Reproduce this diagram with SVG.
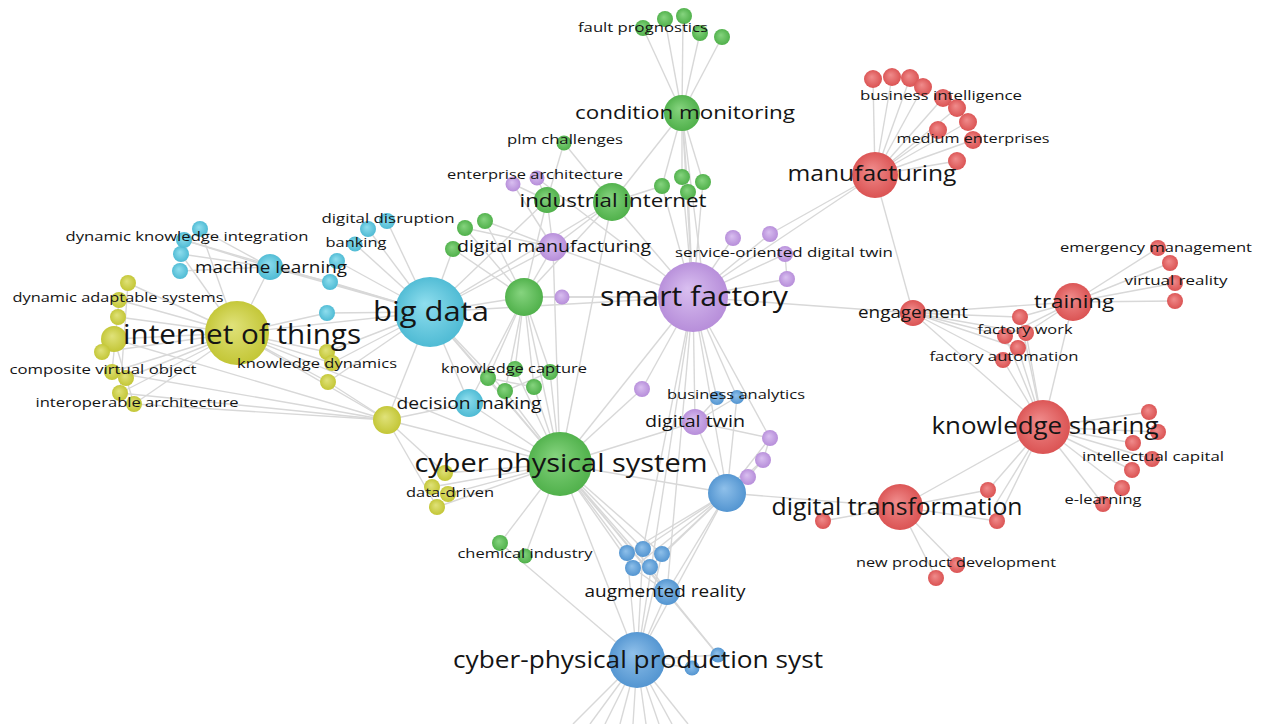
<svg xmlns="http://www.w3.org/2000/svg" width="1263" height="724" viewBox="0 0 1263 724">
<defs>
<radialGradient id="gG" cx="0.5" cy="0.5" r="0.55" fx="0.42" fy="0.38"><stop offset="0" stop-color="#86d47f"/><stop offset="1" stop-color="#4cae47"/></radialGradient>
<radialGradient id="gP" cx="0.5" cy="0.5" r="0.55" fx="0.42" fy="0.38"><stop offset="0" stop-color="#d9bff0"/><stop offset="1" stop-color="#b48ad8"/></radialGradient>
<radialGradient id="gC" cx="0.5" cy="0.5" r="0.55" fx="0.42" fy="0.38"><stop offset="0" stop-color="#8fdeee"/><stop offset="1" stop-color="#4ab8d2"/></radialGradient>
<radialGradient id="gY" cx="0.5" cy="0.5" r="0.55" fx="0.42" fy="0.38"><stop offset="0" stop-color="#e0e27a"/><stop offset="1" stop-color="#c1c431"/></radialGradient>
<radialGradient id="gR" cx="0.5" cy="0.5" r="0.55" fx="0.42" fy="0.38"><stop offset="0" stop-color="#f08c8c"/><stop offset="1" stop-color="#d94f4f"/></radialGradient>
<radialGradient id="gB" cx="0.5" cy="0.5" r="0.55" fx="0.42" fy="0.38"><stop offset="0" stop-color="#8fc0ea"/><stop offset="1" stop-color="#4f92cf"/></radialGradient>
</defs>
<style>
.e line{stroke:#d8d8d8;stroke-width:1.4;fill:none}
.g{fill:url(#gG)}.p{fill:url(#gP)}.c{fill:url(#gC)}.y{fill:url(#gY)}.r{fill:url(#gR)}.b{fill:url(#gB)}
text{font-family:"Open Sans","Liberation Sans",sans-serif;fill:#141414;text-anchor:middle}
.s{font-size:13.5px;font-weight:500}
</style>
<rect width="1263" height="724" fill="#ffffff"/>
<g id="connectors" class="e">
<line x1="682" y1="113" x2="643" y2="28"/><line x1="682" y1="113" x2="665" y2="20"/><line x1="682" y1="113" x2="683" y2="17"/><line x1="682" y1="113" x2="700" y2="33"/><line x1="682" y1="113" x2="722" y2="37"/>
<line x1="682" y1="113" x2="612" y2="202"/><line x1="682" y1="113" x2="662" y2="186"/><line x1="682" y1="113" x2="682" y2="177"/><line x1="682" y1="113" x2="703" y2="182"/><line x1="682" y1="113" x2="688" y2="192"/><line x1="682" y1="113" x2="693" y2="297"/><line x1="682" y1="113" x2="705" y2="297"/>
<line x1="564" y1="143" x2="612" y2="202"/><line x1="564" y1="143" x2="547" y2="200"/>
<line x1="513" y1="184" x2="547" y2="200"/><line x1="513" y1="184" x2="553" y2="247"/><line x1="537" y1="178" x2="547" y2="200"/><line x1="537" y1="178" x2="693" y2="297"/>
<line x1="547" y1="200" x2="430" y2="312"/><line x1="547" y1="200" x2="524" y2="297"/><line x1="547" y1="200" x2="553" y2="247"/>
<line x1="612" y1="202" x2="693" y2="297"/><line x1="612" y1="202" x2="524" y2="297"/><line x1="612" y1="202" x2="553" y2="247"/><line x1="612" y1="202" x2="560" y2="464"/><line x1="612" y1="202" x2="662" y2="186"/><line x1="612" y1="202" x2="430" y2="312"/>
<line x1="682" y1="177" x2="693" y2="297"/><line x1="703" y1="182" x2="693" y2="297"/><line x1="688" y1="192" x2="693" y2="297"/><line x1="662" y1="186" x2="693" y2="297"/>
<line x1="553" y1="247" x2="430" y2="312"/><line x1="553" y1="247" x2="524" y2="297"/><line x1="553" y1="247" x2="693" y2="297"/><line x1="553" y1="247" x2="560" y2="464"/><line x1="553" y1="247" x2="465" y2="228"/><line x1="553" y1="247" x2="485" y2="221"/>
<line x1="465" y1="228" x2="524" y2="297"/><line x1="485" y1="221" x2="524" y2="297"/><line x1="453" y1="249" x2="524" y2="297"/><line x1="453" y1="249" x2="430" y2="312"/>
<line x1="524" y1="297" x2="430" y2="312"/><line x1="524" y1="297" x2="693" y2="297"/><line x1="524" y1="297" x2="560" y2="464"/><line x1="524" y1="297" x2="488" y2="378"/><line x1="524" y1="297" x2="505" y2="391"/><line x1="524" y1="297" x2="534" y2="387"/><line x1="524" y1="297" x2="550" y2="372"/><line x1="524" y1="297" x2="515" y2="369"/><line x1="524" y1="297" x2="469" y2="403"/><line x1="524" y1="297" x2="562" y2="297"/>
<line x1="562" y1="297" x2="693" y2="297"/>
<line x1="430" y1="312" x2="237" y2="333"/><line x1="430" y1="312" x2="270" y2="267"/><line x1="430" y1="312" x2="368" y2="229"/><line x1="430" y1="312" x2="387" y2="221"/><line x1="430" y1="312" x2="355" y2="244"/><line x1="430" y1="312" x2="337" y2="261"/><line x1="430" y1="312" x2="330" y2="282"/><line x1="430" y1="312" x2="327" y2="313"/><line x1="430" y1="312" x2="327" y2="352"/><line x1="430" y1="312" x2="387" y2="420"/><line x1="430" y1="312" x2="469" y2="403"/><line x1="430" y1="312" x2="560" y2="464"/><line x1="430" y1="312" x2="693" y2="297"/><line x1="430" y1="312" x2="488" y2="378"/><line x1="430" y1="312" x2="505" y2="391"/><line x1="430" y1="312" x2="184" y2="240"/>
<line x1="270" y1="267" x2="237" y2="333"/><line x1="270" y1="267" x2="200" y2="229"/><line x1="270" y1="267" x2="184" y2="240"/><line x1="270" y1="267" x2="181" y2="254"/><line x1="270" y1="267" x2="180" y2="271"/><line x1="270" y1="267" x2="330" y2="282"/>
<line x1="237" y1="333" x2="128" y2="283"/><line x1="237" y1="333" x2="119" y2="300"/><line x1="237" y1="333" x2="118" y2="317"/><line x1="237" y1="333" x2="114" y2="339"/><line x1="237" y1="333" x2="102" y2="352"/><line x1="237" y1="333" x2="112" y2="372"/><line x1="237" y1="333" x2="126" y2="378"/><line x1="237" y1="333" x2="120" y2="393"/><line x1="237" y1="333" x2="134" y2="404"/><line x1="237" y1="333" x2="327" y2="352"/><line x1="237" y1="333" x2="332" y2="363"/><line x1="237" y1="333" x2="328" y2="382"/><line x1="237" y1="333" x2="387" y2="420"/><line x1="237" y1="333" x2="200" y2="229"/><line x1="237" y1="333" x2="181" y2="254"/><line x1="237" y1="333" x2="327" y2="313"/><line x1="237" y1="333" x2="560" y2="464"/>
<line x1="114" y1="339" x2="134" y2="404"/><line x1="119" y1="300" x2="112" y2="372"/><line x1="128" y1="283" x2="120" y2="393"/>
<line x1="387" y1="420" x2="560" y2="464"/><line x1="387" y1="420" x2="445" y2="473"/><line x1="387" y1="420" x2="437" y2="507"/><line x1="387" y1="420" x2="114" y2="339"/><line x1="387" y1="420" x2="112" y2="372"/><line x1="387" y1="420" x2="120" y2="393"/><line x1="387" y1="420" x2="134" y2="404"/><line x1="387" y1="420" x2="328" y2="382"/><line x1="387" y1="420" x2="469" y2="403"/>
<line x1="327" y1="352" x2="332" y2="363"/><line x1="332" y1="363" x2="430" y2="312"/><line x1="328" y1="382" x2="430" y2="312"/>
<line x1="445" y1="473" x2="560" y2="464"/><line x1="448" y1="494" x2="560" y2="464"/><line x1="437" y1="507" x2="560" y2="464"/><line x1="432" y1="487" x2="560" y2="464"/>
<line x1="469" y1="403" x2="560" y2="464"/>
<line x1="488" y1="378" x2="560" y2="464"/><line x1="505" y1="391" x2="560" y2="464"/><line x1="534" y1="387" x2="560" y2="464"/><line x1="550" y1="372" x2="560" y2="464"/><line x1="515" y1="369" x2="560" y2="464"/><line x1="488" y1="378" x2="534" y2="387"/><line x1="505" y1="391" x2="550" y2="372"/>
<line x1="560" y1="464" x2="637" y2="660"/><line x1="560" y1="464" x2="667" y2="592"/><line x1="560" y1="464" x2="627" y2="553"/><line x1="560" y1="464" x2="643" y2="549"/><line x1="560" y1="464" x2="662" y2="554"/><line x1="560" y1="464" x2="633" y2="568"/><line x1="560" y1="464" x2="650" y2="567"/><line x1="560" y1="464" x2="500" y2="543"/><line x1="560" y1="464" x2="525" y2="556"/><line x1="560" y1="464" x2="693" y2="297"/><line x1="560" y1="464" x2="695" y2="422"/><line x1="560" y1="464" x2="727" y2="493"/><line x1="560" y1="464" x2="642" y2="389"/><line x1="560" y1="464" x2="718" y2="655"/>
<line x1="693" y1="297" x2="913" y2="313"/><line x1="693" y1="297" x2="875" y2="175"/><line x1="693" y1="297" x2="733" y2="238"/><line x1="693" y1="297" x2="770" y2="234"/><line x1="693" y1="297" x2="785" y2="254"/><line x1="693" y1="297" x2="787" y2="279"/><line x1="693" y1="297" x2="695" y2="422"/><line x1="693" y1="297" x2="727" y2="493"/><line x1="693" y1="297" x2="667" y2="592"/><line x1="693" y1="297" x2="637" y2="660"/><line x1="693" y1="297" x2="642" y2="389"/><line x1="693" y1="297" x2="717" y2="398"/><line x1="693" y1="297" x2="643" y2="549"/><line x1="693" y1="297" x2="770" y2="438"/><line x1="693" y1="297" x2="737" y2="397"/>
<line x1="770" y1="234" x2="875" y2="175"/><line x1="785" y1="254" x2="787" y2="279"/>
<line x1="875" y1="175" x2="873" y2="79"/><line x1="875" y1="175" x2="892" y2="77"/><line x1="875" y1="175" x2="910" y2="78"/><line x1="875" y1="175" x2="923" y2="87"/><line x1="875" y1="175" x2="943" y2="98"/><line x1="875" y1="175" x2="957" y2="108"/><line x1="875" y1="175" x2="968" y2="122"/><line x1="875" y1="175" x2="938" y2="130"/><line x1="875" y1="175" x2="973" y2="140"/><line x1="875" y1="175" x2="957" y2="161"/><line x1="875" y1="175" x2="913" y2="313"/>
<line x1="913" y1="313" x2="1073" y2="302"/><line x1="913" y1="313" x2="1043" y2="427"/><line x1="913" y1="313" x2="1020" y2="317"/><line x1="913" y1="313" x2="1005" y2="336"/><line x1="913" y1="313" x2="1026" y2="333"/><line x1="913" y1="313" x2="1018" y2="348"/><line x1="913" y1="313" x2="1003" y2="360"/>
<line x1="1073" y1="302" x2="1158" y2="248"/><line x1="1073" y1="302" x2="1170" y2="263"/><line x1="1073" y1="302" x2="1175" y2="283"/><line x1="1073" y1="302" x2="1175" y2="301"/><line x1="1073" y1="302" x2="1043" y2="427"/><line x1="1073" y1="302" x2="1020" y2="317"/><line x1="1073" y1="302" x2="1026" y2="333"/><line x1="1073" y1="302" x2="1005" y2="336"/>
<line x1="1020" y1="317" x2="1043" y2="427"/><line x1="1005" y1="336" x2="1043" y2="427"/><line x1="1026" y1="333" x2="1043" y2="427"/><line x1="1018" y1="348" x2="1043" y2="427"/><line x1="1003" y1="360" x2="1043" y2="427"/>
<line x1="1043" y1="427" x2="1149" y2="412"/><line x1="1043" y1="427" x2="1158" y2="432"/><line x1="1043" y1="427" x2="1133" y2="443"/><line x1="1043" y1="427" x2="1152" y2="459"/><line x1="1043" y1="427" x2="1132" y2="470"/><line x1="1043" y1="427" x2="1122" y2="488"/><line x1="1043" y1="427" x2="1103" y2="504"/><line x1="1043" y1="427" x2="900" y2="507"/><line x1="1043" y1="427" x2="988" y2="490"/><line x1="1043" y1="427" x2="997" y2="521"/><line x1="1043" y1="427" x2="995" y2="505"/>
<line x1="900" y1="507" x2="823" y2="521"/><line x1="900" y1="507" x2="988" y2="490"/><line x1="900" y1="507" x2="997" y2="521"/><line x1="900" y1="507" x2="957" y2="565"/><line x1="900" y1="507" x2="936" y2="578"/><line x1="900" y1="507" x2="727" y2="493"/>
<line x1="727" y1="493" x2="627" y2="553"/><line x1="727" y1="493" x2="643" y2="549"/><line x1="727" y1="493" x2="662" y2="554"/><line x1="727" y1="493" x2="633" y2="568"/><line x1="727" y1="493" x2="650" y2="567"/><line x1="727" y1="493" x2="667" y2="592"/><line x1="727" y1="493" x2="637" y2="660"/><line x1="727" y1="493" x2="770" y2="438"/><line x1="727" y1="493" x2="763" y2="460"/><line x1="727" y1="493" x2="748" y2="477"/><line x1="727" y1="493" x2="695" y2="422"/><line x1="727" y1="493" x2="737" y2="397"/>
<line x1="695" y1="422" x2="717" y2="398"/><line x1="695" y1="422" x2="737" y2="397"/><line x1="695" y1="422" x2="770" y2="438"/><line x1="770" y1="438" x2="763" y2="460"/><line x1="763" y1="460" x2="748" y2="477"/>
<line x1="667" y1="592" x2="637" y2="660"/><line x1="667" y1="592" x2="633" y2="568"/><line x1="667" y1="592" x2="650" y2="567"/><line x1="667" y1="592" x2="718" y2="655"/>
<line x1="637" y1="660" x2="718" y2="655"/><line x1="637" y1="660" x2="692" y2="668"/><line x1="637" y1="660" x2="627" y2="553"/><line x1="637" y1="660" x2="662" y2="554"/><line x1="637" y1="660" x2="643" y2="549"/><line x1="637" y1="660" x2="500" y2="543"/>
<line x1="637" y1="660" x2="573" y2="724"/><line x1="637" y1="660" x2="590" y2="724"/><line x1="637" y1="660" x2="605" y2="724"/><line x1="637" y1="660" x2="620" y2="724"/><line x1="637" y1="660" x2="633" y2="724"/><line x1="637" y1="660" x2="646" y2="724"/><line x1="637" y1="660" x2="659" y2="724"/><line x1="637" y1="660" x2="672" y2="724"/><line x1="637" y1="660" x2="688" y2="724"/>
</g>
<g id="n-fp2"><circle class="g" cx="665" cy="19" r="8"/></g>
<g id="n-fp3"><circle class="g" cx="684" cy="16" r="8"/></g>
<g id="n-fp4"><circle class="g" cx="700" cy="33" r="8"/></g>
<g id="n-fp5"><circle class="g" cx="722" cy="37" r="8"/></g>
<g id="n-ea1"><circle class="p" cx="513" cy="184" r="7.5"/></g>
<g id="n-ii1"><circle class="g" cx="547" cy="200" r="13"/></g>
<g id="n-g1"><circle class="g" cx="662" cy="186" r="8"/></g>
<g id="n-g2"><circle class="g" cx="682" cy="177" r="8"/></g>
<g id="n-g3"><circle class="g" cx="703" cy="182" r="8"/></g>
<g id="n-g4"><circle class="g" cx="688" cy="192" r="8"/></g>
<g id="n-dg1"><circle class="g" cx="465" cy="228" r="8"/></g>
<g id="n-dg2"><circle class="g" cx="485" cy="221" r="8"/></g>
<g id="n-dg3"><circle class="g" cx="453" cy="249" r="8"/></g>
<g id="n-gc"><circle class="g" cx="524" cy="297" r="19"/></g>
<g id="n-p1"><circle class="p" cx="562" cy="297" r="7.5"/></g>
<g id="n-kc1"><circle class="g" cx="488" cy="378" r="8"/></g>
<g id="n-kc2"><circle class="g" cx="505" cy="391" r="8"/></g>
<g id="n-kc3"><circle class="g" cx="534" cy="387" r="8"/></g>
<g id="n-kc4"><circle class="g" cx="550" cy="372" r="8"/></g>
<g id="n-ch1"><circle class="g" cx="500" cy="543" r="8"/></g>
<g id="n-dk1"><circle class="c" cx="200" cy="229" r="8"/></g>
<g id="n-dk3"><circle class="c" cx="181" cy="254" r="8"/></g>
<g id="n-dk4"><circle class="c" cx="180" cy="271" r="8"/></g>
<g id="n-dd2"><circle class="c" cx="387" cy="221" r="8"/></g>
<g id="n-c1"><circle class="c" cx="337" cy="261" r="8"/></g>
<g id="n-c2"><circle class="c" cx="330" cy="282" r="8"/></g>
<g id="n-c3"><circle class="c" cx="327" cy="313" r="8"/></g>
<g id="n-y1"><circle class="y" cx="128" cy="283" r="8"/></g>
<g id="n-y3"><circle class="y" cx="118" cy="317" r="8"/></g>
<g id="n-y4"><circle class="y" cx="114" cy="339" r="13"/></g>
<g id="n-y5"><circle class="y" cx="102" cy="352" r="8"/></g>
<g id="n-y7"><circle class="y" cx="126" cy="378" r="8"/></g>
<g id="n-y8"><circle class="y" cx="120" cy="393" r="8"/></g>
<g id="n-kd1"><circle class="y" cx="327" cy="352" r="8"/></g>
<g id="n-kd3"><circle class="y" cx="328" cy="382" r="8"/></g>
<g id="n-y10"><circle class="y" cx="387" cy="420" r="14"/></g>
<g id="n-dr1"><circle class="y" cx="445" cy="473" r="8"/></g>
<g id="n-dr3"><circle class="y" cx="437" cy="507" r="8"/></g>
<g id="n-dr4"><circle class="y" cx="432" cy="487" r="8"/></g>
<g id="n-so1"><circle class="p" cx="733" cy="238" r="8"/></g>
<g id="n-so2"><circle class="p" cx="770" cy="234" r="8"/></g>
<g id="n-so4"><circle class="p" cx="787" cy="279" r="8"/></g>
<g id="n-p2"><circle class="p" cx="642" cy="389" r="8"/></g>
<g id="n-p3"><circle class="p" cx="770" cy="438" r="8"/></g>
<g id="n-p4"><circle class="p" cx="763" cy="460" r="8"/></g>
<g id="n-p5"><circle class="p" cx="748" cy="477" r="8"/></g>
<g id="n-ba1"><circle class="b" cx="717" cy="398" r="7"/></g>
<g id="n-b1"><circle class="b" cx="727" cy="493" r="19"/></g>
<g id="n-bc1"><circle class="b" cx="627" cy="553" r="8"/></g>
<g id="n-bc2"><circle class="b" cx="643" cy="549" r="8"/></g>
<g id="n-bc3"><circle class="b" cx="662" cy="554" r="8"/></g>
<g id="n-bc4"><circle class="b" cx="633" cy="568" r="8"/></g>
<g id="n-bc5"><circle class="b" cx="650" cy="567" r="8"/></g>
<g id="n-b2"><circle class="b" cx="718" cy="655" r="7.5"/></g>
<g id="n-b3"><circle class="b" cx="692" cy="668" r="7.5"/></g>
<g id="n-bi1"><circle class="r" cx="873" cy="79" r="9"/></g>
<g id="n-bi2"><circle class="r" cx="892" cy="77" r="9"/></g>
<g id="n-bi3"><circle class="r" cx="910" cy="78" r="9"/></g>
<g id="n-bi4"><circle class="r" cx="923" cy="87" r="9"/></g>
<g id="n-bi6"><circle class="r" cx="957" cy="108" r="9"/></g>
<g id="n-bi7"><circle class="r" cx="968" cy="122" r="9"/></g>
<g id="n-bi8"><circle class="r" cx="938" cy="130" r="9"/></g>
<g id="n-bi10"><circle class="r" cx="957" cy="161" r="9"/></g>
<g id="n-fw1"><circle class="r" cx="1020" cy="317" r="8"/></g>
<g id="n-fw2"><circle class="r" cx="1005" cy="336" r="8"/></g>
<g id="n-fw4"><circle class="r" cx="1018" cy="348" r="8"/></g>
<g id="n-em2"><circle class="r" cx="1170" cy="263" r="8"/></g>
<g id="n-em4"><circle class="r" cx="1175" cy="301" r="8"/></g>
<g id="n-ic1"><circle class="r" cx="1149" cy="412" r="8"/></g>
<g id="n-ic2"><circle class="r" cx="1158" cy="432" r="8"/></g>
<g id="n-ic3"><circle class="r" cx="1133" cy="443" r="8"/></g>
<g id="n-ic5"><circle class="r" cx="1132" cy="470" r="8"/></g>
<g id="n-ic6"><circle class="r" cx="1122" cy="488" r="8"/></g>
<g id="n-r1"><circle class="r" cx="823" cy="521" r="8"/></g>
<g id="n-r2"><circle class="r" cx="988" cy="490" r="8"/></g>
<g id="n-r3"><circle class="r" cx="997" cy="521" r="8"/></g>
<g id="n-np2"><circle class="r" cx="936" cy="578" r="8"/></g>
<g id="n-internet-of-things"><circle class="y" cx="237" cy="333" r="32"/><text x="242" y="344" font-size="27" textLength="238" lengthAdjust="spacingAndGlyphs">internet of things</text></g>
<g id="n-big-data"><circle class="c" cx="430" cy="312" r="35"/><text x="431" y="321" font-size="27" textLength="116" lengthAdjust="spacingAndGlyphs">big data</text></g>
<g id="n-smart-factory"><circle class="p" cx="693" cy="297" r="35"/><text x="694" y="306" font-size="27" textLength="188" lengthAdjust="spacingAndGlyphs">smart factory</text></g>
<g id="n-cyber-physical-system"><circle class="g" cx="560" cy="464" r="32"/><text x="561" y="472" font-size="26" textLength="293" lengthAdjust="spacingAndGlyphs">cyber physical system</text></g>
<g id="n-cpps"><circle class="b" cx="637" cy="660" r="28"/><text x="638" y="668" font-size="24" textLength="370" lengthAdjust="spacingAndGlyphs">cyber-physical production syst</text></g>
<g id="n-knowledge-sharing"><circle class="r" cx="1043" cy="427" r="27"/><text x="1045" y="434" font-size="24" textLength="227" lengthAdjust="spacingAndGlyphs">knowledge sharing</text></g>
<g id="n-digital-transformation"><circle class="r" cx="900" cy="507" r="23"/><text x="897" y="515" font-size="23" textLength="251" lengthAdjust="spacingAndGlyphs">digital transformation</text></g>
<g id="n-manufacturing"><circle class="r" cx="875" cy="175" r="23"/><text x="872" y="181" font-size="21" textLength="169" lengthAdjust="spacingAndGlyphs">manufacturing</text></g>
<g id="n-training"><circle class="r" cx="1073" cy="302" r="19"/><text x="1074" y="308" font-size="19" textLength="80" lengthAdjust="spacingAndGlyphs">training</text></g>
<g id="n-engagement"><circle class="r" cx="913" cy="313" r="13"/><text x="913" y="318" font-size="17" textLength="110" lengthAdjust="spacingAndGlyphs">engagement</text></g>
<g id="n-condition-monitoring"><circle class="g" cx="682" cy="113" r="18"/><text x="685" y="119" font-size="19" textLength="220" lengthAdjust="spacingAndGlyphs">condition monitoring</text></g>
<g id="n-industrial-internet"><circle class="g" cx="612" cy="202" r="19"/><text x="613" y="207" font-size="18" textLength="187" lengthAdjust="spacingAndGlyphs">industrial internet</text></g>
<g id="n-digital-manufacturing"><circle class="p" cx="553" cy="247" r="14"/><text x="554" y="252" font-size="16.5" textLength="194" lengthAdjust="spacingAndGlyphs">digital manufacturing</text></g>
<g id="n-machine-learning"><circle class="c" cx="270" cy="267" r="13"/><text x="271" y="273" font-size="17" textLength="152" lengthAdjust="spacingAndGlyphs">machine learning</text></g>
<g id="n-decision-making"><circle class="c" cx="469" cy="403" r="14"/><text x="469" y="409" font-size="16.5" textLength="145" lengthAdjust="spacingAndGlyphs">decision making</text></g>
<g id="n-digital-twin"><circle class="p" cx="695" cy="422" r="13"/><text x="695" y="427" font-size="16" textLength="100" lengthAdjust="spacingAndGlyphs">digital twin</text></g>
<g id="n-augmented-reality"><circle class="b" cx="667" cy="592" r="13"/><text x="665" y="597" font-size="16.5" textLength="161" lengthAdjust="spacingAndGlyphs">augmented reality</text></g>
<g id="n-fault-prognostics"><circle class="g" cx="643" cy="28" r="8"/><text class="s" x="643" y="32" textLength="130" lengthAdjust="spacingAndGlyphs">fault prognostics</text></g>
<g id="n-plm-challenges"><circle class="g" cx="564" cy="143" r="7.5"/><text class="s" x="565" y="144" textLength="116" lengthAdjust="spacingAndGlyphs">plm challenges</text></g>
<g id="n-enterprise-architecture"><circle class="p" cx="537" cy="178" r="7.5"/><text class="s" x="535" y="179" textLength="176" lengthAdjust="spacingAndGlyphs">enterprise architecture</text></g>
<g id="n-service-oriented-digital-twin"><circle class="p" cx="785" cy="254" r="8"/><text class="s" x="784" y="257" textLength="218" lengthAdjust="spacingAndGlyphs">service-oriented digital twin</text></g>
<g id="n-knowledge-capture"><circle class="g" cx="515" cy="369" r="8"/><text class="s" x="514" y="373" textLength="146" lengthAdjust="spacingAndGlyphs">knowledge capture</text></g>
<g id="n-chemical-industry"><circle class="g" cx="525" cy="556" r="7.5"/><text class="s" x="525" y="558" textLength="135" lengthAdjust="spacingAndGlyphs">chemical industry</text></g>
<g id="n-dynamic-knowledge-integration"><circle class="c" cx="184" cy="240" r="8"/><text class="s" x="187" y="241" textLength="243" lengthAdjust="spacingAndGlyphs">dynamic knowledge integration</text></g>
<g id="n-digital-disruption"><circle class="c" cx="368" cy="229" r="8"/><text class="s" x="388" y="223" textLength="133" lengthAdjust="spacingAndGlyphs">digital disruption</text></g>
<g id="n-banking"><circle class="c" cx="355" cy="244" r="7.5"/><text class="s" x="356" y="247" textLength="61" lengthAdjust="spacingAndGlyphs">banking</text></g>
<g id="n-dynamic-adaptable-systems"><circle class="y" cx="119" cy="300" r="8"/><text class="s" x="118" y="302" textLength="211" lengthAdjust="spacingAndGlyphs">dynamic adaptable systems</text></g>
<g id="n-composite-virtual-object"><circle class="y" cx="112" cy="372" r="8"/><text class="s" x="103" y="374" textLength="187" lengthAdjust="spacingAndGlyphs">composite virtual object</text></g>
<g id="n-interoperable-architecture"><circle class="y" cx="134" cy="404" r="8"/><text class="s" x="137" y="407" textLength="203" lengthAdjust="spacingAndGlyphs">interoperable architecture</text></g>
<g id="n-knowledge-dynamics"><circle class="y" cx="332" cy="363" r="8"/><text class="s" x="317" y="368" textLength="160" lengthAdjust="spacingAndGlyphs">knowledge dynamics</text></g>
<g id="n-data-driven"><circle class="y" cx="448" cy="494" r="8"/><text class="s" x="450" y="497" textLength="88" lengthAdjust="spacingAndGlyphs">data-driven</text></g>
<g id="n-business-analytics"><circle class="b" cx="737" cy="397" r="7"/><text class="s" x="736" y="399" textLength="138" lengthAdjust="spacingAndGlyphs">business analytics</text></g>
<g id="n-business-intelligence"><circle class="r" cx="943" cy="98" r="9"/><text class="s" x="941" y="100" textLength="162" lengthAdjust="spacingAndGlyphs">business intelligence</text></g>
<g id="n-medium-enterprises"><circle class="r" cx="973" cy="140" r="9"/><text class="s" x="973" y="143" textLength="153" lengthAdjust="spacingAndGlyphs">medium enterprises</text></g>
<g id="n-emergency-management"><circle class="r" cx="1158" cy="248" r="8"/><text class="s" x="1156" y="252" textLength="192" lengthAdjust="spacingAndGlyphs">emergency management</text></g>
<g id="n-virtual-reality"><circle class="r" cx="1175" cy="283" r="8"/><text class="s" x="1176" y="285" textLength="103" lengthAdjust="spacingAndGlyphs">virtual reality</text></g>
<g id="n-factory-work"><circle class="r" cx="1026" cy="333" r="8"/><text class="s" x="1025" y="334" textLength="95" lengthAdjust="spacingAndGlyphs">factory work</text></g>
<g id="n-factory-automation"><circle class="r" cx="1003" cy="360" r="8"/><text class="s" x="1004" y="361" textLength="149" lengthAdjust="spacingAndGlyphs">factory automation</text></g>
<g id="n-intellectual-capital"><circle class="r" cx="1152" cy="459" r="8"/><text class="s" x="1153" y="461" textLength="142" lengthAdjust="spacingAndGlyphs">intellectual capital</text></g>
<g id="n-e-learning"><circle class="r" cx="1103" cy="504" r="8"/><text class="s" x="1103" y="504" textLength="77" lengthAdjust="spacingAndGlyphs">e-learning</text></g>
<g id="n-new-product-development"><circle class="r" cx="957" cy="565" r="8"/><text class="s" x="956" y="567" textLength="200" lengthAdjust="spacingAndGlyphs">new product development</text></g>
</svg>
